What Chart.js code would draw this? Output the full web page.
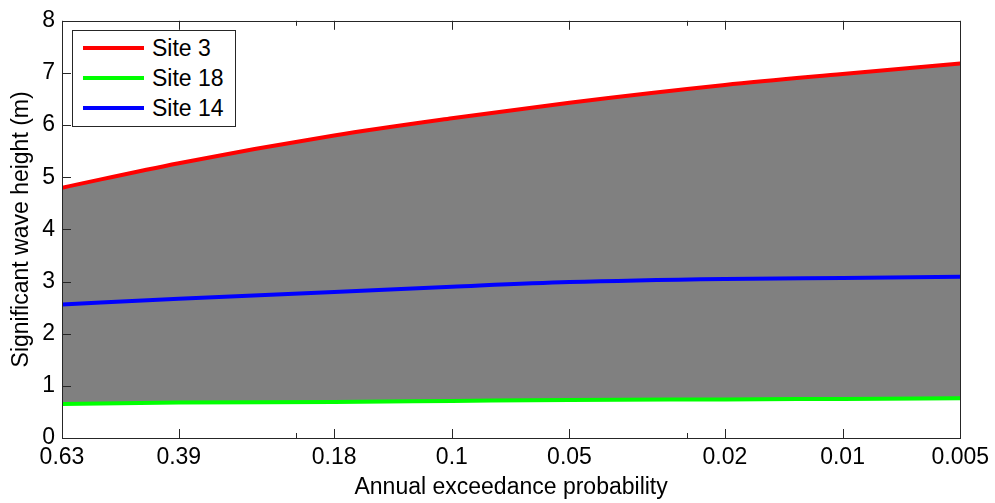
<!DOCTYPE html>
<html>
<head>
<meta charset="utf-8">
<title>Significant wave height</title>
<script src="https://cdn.jsdelivr.net/npm/chart.js@4.4.0/dist/chart.umd.min.js"></script>
<style>
    html, body { margin: 0; padding: 0; background: #fff; }
    #wrap { position: relative; width: 995px; height: 503px; }
    #legend {
        position: absolute; left: 72px; top: 30px; width: 164px; height: 97px;
        box-sizing: border-box; border: 1px solid #262626; background: #fff;
        font: 23px "Liberation Sans", Arial, sans-serif; color: #000;
    }
    .legend-row { position: absolute; left: 0; height: 30px; line-height: 30px; }
    .legend-line { position: absolute; left: 10px; width: 61px; height: 4px; top: 13px; }
    .legend-text { position: absolute; left: 79px; white-space: nowrap; }
</style>
</head>
<body>
<div id="wrap">
    <canvas id="waveChart" width="995" height="503"></canvas>
    <div id="legend"></div>
</div>
<script>
// x positions along the axis (0 = left edge, 100 = right edge)
const xPositions = [0, 13.0, 30.3, 43.4, 56.5, 73.8, 86.9, 100];
const tickLabels = ['0.63', '0.39', '0.18', '0.1', '0.05', '0.02', '0.01', '0.005'];
const minorTicks = [26.1, 69.6];

const siteNames = ['Site 3', 'Site 18', 'Site 14'];
const site3 = [4.80, 5.27, 5.80, 6.13, 6.43, 6.77, 6.98, 7.18];
const site18 = [0.65, 0.68, 0.69, 0.71, 0.73, 0.74, 0.75, 0.76];
const site14 = [2.56, 2.67, 2.80, 2.90, 2.99, 3.05, 3.07, 3.09];

const FONT = '"Liberation Sans", Arial, sans-serif';

function toPoints(values) {
    return values.map((v, i) => ({ x: xPositions[i], y: v }));
}

// frame round the plot and inward ticks, matlab style
const frameTicks = {
    id: 'frameTicks',
    afterDraw(chart) {
        const ctx = chart.ctx;
        const area = chart.chartArea;
        const xs = chart.scales.x;
        const ys = chart.scales.y;
        ctx.save();
        ctx.strokeStyle = '#262626';
        ctx.lineWidth = 1;
        ctx.beginPath();
        xPositions.forEach(v => {
            const px = Math.round(xs.getPixelForValue(v)) + 0.5;
            ctx.moveTo(px, area.bottom); ctx.lineTo(px, area.bottom - 9);
            ctx.moveTo(px, area.top); ctx.lineTo(px, area.top + 9);
        });
        minorTicks.forEach(v => {
            const px = Math.round(xs.getPixelForValue(v)) + 0.5;
            ctx.moveTo(px, area.bottom); ctx.lineTo(px, area.bottom - 5);
            ctx.moveTo(px, area.top); ctx.lineTo(px, area.top + 5);
        });
        ys.ticks.forEach(t => {
            const py = Math.round(ys.getPixelForValue(t.value)) + 0.5;
            ctx.moveTo(area.left, py); ctx.lineTo(area.left + 9, py);
        });
        ctx.stroke();
        ctx.strokeRect(Math.round(area.left) + 0.5, Math.round(area.top) + 0.5,
            Math.round(area.right - area.left), Math.round(area.bottom - area.top));
        ctx.restore();
    }
};

const ctx = document.getElementById('waveChart').getContext('2d');
const waveChart = new Chart(ctx, {
    type: 'line',
    data: {
        datasets: [{
            label: siteNames[0],
            data: toPoints(site3),
            borderColor: '#ff0000',
            backgroundColor: '#808080',
            fill: 1
        }, {
            label: siteNames[1],
            data: toPoints(site18),
            borderColor: '#00ff00',
            fill: false
        }, {
            label: siteNames[2],
            data: toPoints(site14),
            borderColor: '#0000ff',
            fill: false
        }]
    },
    options: {
        responsive: false,
        animation: false,
        devicePixelRatio: 1,
        elements: {
            line: { borderWidth: 4, cubicInterpolationMode: 'monotone' },
            point: { radius: 0 }
        },
        layout: { padding: { top: 19, right: 33, left: 0, bottom: 0 } },
        plugins: {
            legend: { display: false },
            tooltip: { enabled: false },
            filler: { drawTime: 'beforeDatasetsDraw' }
        },
        scales: {
            x: {
                type: 'linear',
                min: 0,
                max: 100,
                afterBuildTicks: scale => {
                    scale.ticks = xPositions.map(v => ({ value: v }));
                },
                afterFit: scale => { scale.height = 65; },
                grid: { display: false, drawTicks: false },
                border: { display: false },
                ticks: {
                    autoSkip: false,
                    maxRotation: 0,
                    padding: 6,
                    color: '#000',
                    font: { family: FONT, size: 23 },
                    callback: value => {
                        const i = xPositions.indexOf(value);
                        return i >= 0 ? tickLabels[i] : '';
                    }
                },
                title: {
                    display: true,
                    text: 'Annual exceedance probability',
                    color: '#000',
                    font: { family: FONT, size: 23 },
                    padding: { top: 0, bottom: 2 }
                }
            },
            y: {
                min: 0,
                max: 8,
                afterFit: scale => { scale.width = 62; },
                grid: { display: false, drawTicks: false },
                border: { display: false },
                ticks: {
                    stepSize: 1,
                    padding: 7,
                    color: '#000',
                    font: { family: FONT, size: 23 }
                },
                title: {
                    display: true,
                    text: 'Significant wave height (m)',
                    color: '#000',
                    font: { family: FONT, size: 23 },
                    padding: { top: 8, bottom: 0 }
                }
            }
        }
    },
    plugins: [frameTicks]
});

function buildLegend(chart) {
    const box = document.getElementById('legend');
    chart.data.datasets.forEach((ds, i) => {
        const row = document.createElement('div');
        row.className = 'legend-row';
        row.style.top = (2 + i * 30) + 'px';
        row.innerHTML = `
            <div class="legend-line" style="background:${ds.borderColor}"></div>
            <span class="legend-text">${ds.label}</span>
        `;
        box.appendChild(row);
    });
}

buildLegend(waveChart);
</script>
</body>
</html>
